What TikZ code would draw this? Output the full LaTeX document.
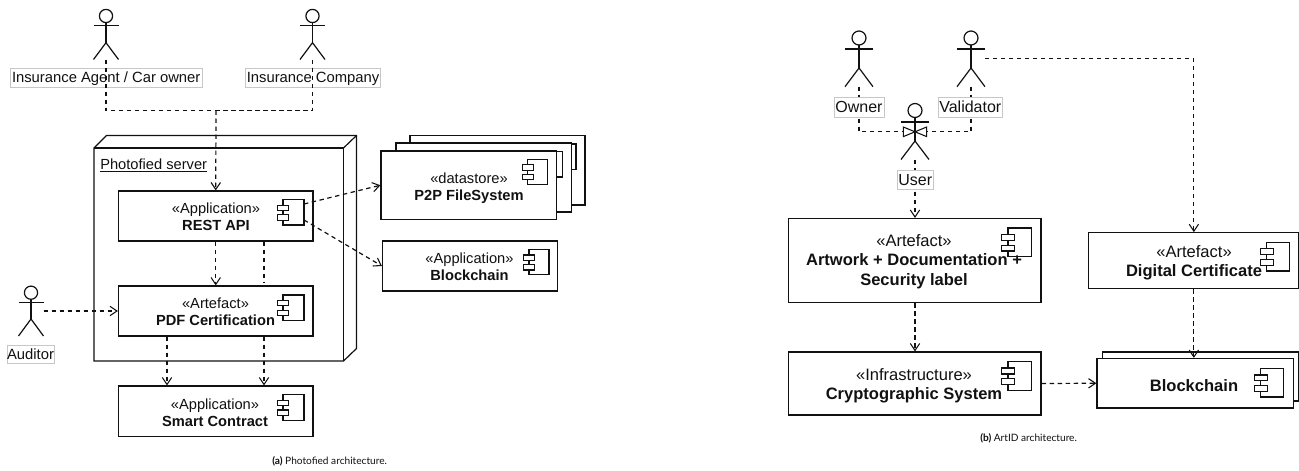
\documentclass[tikz,border=0pt]{standalone}
\usepackage{fontspec}
\setmainfont{Liberation Sans}
\newfontfamily\capfont{Lato}
\usetikzlibrary{arrows.meta,calc}
\definecolor{ink}{HTML}{111111}
\tikzset{
  x=0.75pt,y=-0.75pt,
  line/.style={draw=ink,line width=0.9pt},
  dep/.style={draw=ink,line width=0.9pt,dash pattern=on 3.3pt off 2.7pt,-{Straight Barb[length=5.2pt,width=7pt,line width=0.8pt]}},
  plain/.style={draw=ink,line width=0.9pt,dash pattern=on 3.3pt off 2.7pt},
  comp/.style={draw=ink,line width=0.9pt,fill=white,inner sep=0pt,align=center,text=ink,font=\fontsize{11}{13}\selectfont},
  compb/.style={comp,font=\fontsize{12.4}{14.6}\selectfont},
  lab/.style={draw=black!22,line width=0.45pt,fill=white,inner sep=0pt,text=ink,text height=8pt,text depth=0pt,font=\fontsize{11.1}{13}\selectfont},
  labb/.style={lab,text height=8.5pt,font=\fontsize{12}{14}\selectfont},
  txt/.style={inner sep=0pt,align=center,text=ink,font=\fontsize{11}{13}\selectfont},
  txtb/.style={txt,font=\fontsize{12.4}{14.6}\selectfont},
  captxt/.style={inner sep=0pt,text=ink,font=\capfont\fontsize{7.6}{9}\selectfont},
  hollow/.style={draw=ink,line width=0.8pt,fill=white},
}
% box: name, left, top, right, bottom
\newcommand{\cbox}[6][comp]{\node[#1,minimum width=#5*0.75pt-#3*0.75pt,minimum height=#6*0.75pt-#4*0.75pt] (#2) at ({(#3+#5)/2},{(#4+#6)/2}) {};}
% component icon: right edge, top, width, height of body
\newcommand{\cicon}[4]{%
  \path[line,fill=white] ({#1-#3},#2) rectangle (#1,{#2+#4});
  \path[line,fill=white] ({#1-#3-#3*0.27},{#2+#4*0.22}) rectangle ({#1-#3+#3*0.28},{#2+#4*0.43});
  \path[line,fill=white] ({#1-#3-#3*0.27},{#2+#4*0.6}) rectangle ({#1-#3+#3*0.28},{#2+#4*0.81});
}
% actor: name, x, head centre y, radius, half span, armY, hipY, footY
\newcommand{\actor}[8]{%
  \draw[line] (#2,#3) circle[radius=#4];
  \draw[line] (#2,{#3+#4}) -- (#2,#7);
  \draw[line] ({#2-#5},#6) -- ({#2+#5},#6);
  \draw[line] ({#2-#5},#8) -- (#2,#7) -- ({#2+#5},#8);
  \coordinate (#1 foot) at (#2,#8);
  \coordinate (#1 hand) at ({#2+#5},#6);
}
\begin{document}
\begin{tikzpicture}
\useasboundingbox (0,0) rectangle (1299,471);
\fill[white] (0,0) rectangle (1299,471);

% ---------- (a) ----------
\actor{agent}{106}{16}{6.6}{12.5}{25.7}{42.7}{59.5}
\actor{company}{312.5}{16}{6.6}{12.5}{25.7}{42.7}{59.5}
\actor{auditor}{31}{292.7}{6.6}{12.5}{302.3}{319}{336}
\node[lab,minimum width=191.5*0.75pt,minimum height=19*0.75pt] (agentlab) at (106.2,77.5) {Insurance Agent / Car owner};
\node[lab,minimum width=135*0.75pt,minimum height=19*0.75pt] (companylab) at (313,77.5) {Insurance Company};
\node[lab,minimum width=47*0.75pt,minimum height=17.5*0.75pt] (auditorlab) at (30.5,354.5) {Auditor};

% node (server)
\path[line,fill=white] (94,148) -- (106.5,135.5) -- (356.5,135.5) -- (356.5,348.5) -- (343.5,361) -- (94,361) -- cycle;
\draw[line] (94,148) -- (343.5,148) -- (343.5,361);
\draw[line] (343.5,148) -- (356.5,135.5);
\node[txt,anchor=west] (server) at (100,165.5) {\underline{Photofied server}};

\cbox{rest}{118.5}{191}{313}{241}
\cbox{pdf}{118.5}{286}{313}{336}
\cbox{smart}{118.5}{386}{313}{436.5}
\cbox{p2pback}{410}{135.5}{585}{205}
\cicon{576}{144}{20}{25.5}
\cbox{p2pmid}{396}{143}{571.5}{212}
\cicon{562.7}{151.5}{20}{25.5}
\cbox{p2p}{381}{151}{556.5}{219.5}
\cbox{chaina}{382.5}{241}{557.5}{291}
\cicon{304}{199.7}{21}{25.3}
\cicon{304}{295}{21}{25.3}
\cicon{304}{394.8}{21}{25.3}
\cicon{547.7}{159.3}{20}{25.3}
\cicon{549}{249.5}{20}{25.3}
\node[txt] (t1) at (216,217) {«Application»\\\textbf{REST API}};
\node[txt] (t2) at (215.5,312) {«Artefact»\\\textbf{PDF Certification}};
\node[txt] (t3) at (215,412.5) {«Application»\\\textbf{Smart Contract}};
\node[txt] (t4) at (469,188) {«datastore»\\\textbf{P2P FileSystem}};
\node[txt] (t5) at (469.5,267) {«Application»\\\textbf{Blockchain}};

\coordinate (laneA) at (216,110.5);
\coordinate (laneB) at (264,0);
\coordinate (laneC) at (167,0);
\coordinate (restR1) at (304,204);
\coordinate (restR2) at (304,220);
\draw[plain] (agent foot) |- (laneA);
\draw[plain] (company foot) |- (laneA);
\draw[dep] (laneA) -- (rest.north);
\draw[dep] (rest.south) -- (pdf.north);
\draw[plain] (rest.south -| laneB) -- ($(pdf.north -| laneB)+(0,-3)$);
\draw[dep] (pdf.south -| laneC) -- (smart.north -| laneC);
\draw[dep] (pdf.south -| laneB) -- (smart.north -| laneB);
\draw[dep] (restR1) -- (p2p.west);
\draw[dep] (restR2) -- (chaina.west);
\draw[dep] (auditor hand |- pdf.west) -- (pdf.west);

\node[captxt,anchor=west] (capa) at (272,461) {\textbf{(a)} Photofied architecture.};

% ---------- (b) ----------
\actor{owner}{859}{38}{7}{14}{49}{68}{86.7}
\actor{validator}{971}{38}{7}{14}{49}{68}{86.7}
\actor{user}{915}{110.5}{7}{14}{122}{141}{159.5}
\coordinate (tipL) at (903,131.8);
\coordinate (tipR) at (927,131.8);
\coordinate (vhand) at (985,58.5);
\cbox[compb]{art}{788.5}{218.5}{1041}{302.5}
\cbox[compb]{crypto}{788.5}{352}{1041}{415}
\cbox[compb]{digital}{1088.7}{232.7}{1299}{288.7}
\cbox[compb]{chainback}{1102.5}{352}{1298.5}{401}
\cbox[compb]{chainb}{1097}{358.5}{1293.5}{408}
\cicon{1031.5}{228}{23.5}{28.5}
\cicon{1031.5}{361.7}{23.5}{28.5}
\cicon{1289.7}{242.3}{23}{28.7}
\cicon{1283.7}{368.7}{23}{28.3}
\node[txtb] (t6) at (914,261.5) {«Artefact»\\\textbf{Artwork + Documentation +}\\\textbf{Security label}};
\node[txtb] (t7) at (914,386) {«Infrastructure»\\\textbf{Cryptographic System}};
\node[txtb] (t8) at (1194,262.5) {«Artefact»\\\textbf{Digital Certificate}};
\node[txtb] (t9) at (1194,385.5) {\textbf{Blockchain}};

\draw[plain] (owner foot) |- (tipL);
\draw[plain] (validator foot) |- (tipR);
\draw[hollow] (903.3,127) -- (915,131.8) -- (903.3,136.6) -- cycle;
\draw[hollow] (926.7,127) -- (915,131.8) -- (926.7,136.6) -- cycle;
\draw[dep] (user foot) -- (art.north -| user foot);
\draw[dep] (art.south -| user foot) -- (crypto.north -| user foot);
\draw[dep] (crypto.east) -- (chainb.west);
\draw[dep] (vhand) -| (digital.north);
\draw[dep] (digital.south) -- (chainb.north -| digital.south);
\node[labb,minimum width=50*0.75pt,minimum height=19.5*0.75pt] (ownerlab) at (859,107.2) {Owner};
\node[labb,minimum width=64.5*0.75pt,minimum height=19.5*0.75pt] (validatorlab) at (970.3,107.2) {Validator};
\node[labb,minimum width=35.5*0.75pt,minimum height=19.5*0.75pt] (userlab) at (915.2,179.8) {User};
\node[captxt,anchor=west] (capb) at (980,438) {\textbf{(b)} ArtID architecture.};
\end{tikzpicture}
\end{document}
